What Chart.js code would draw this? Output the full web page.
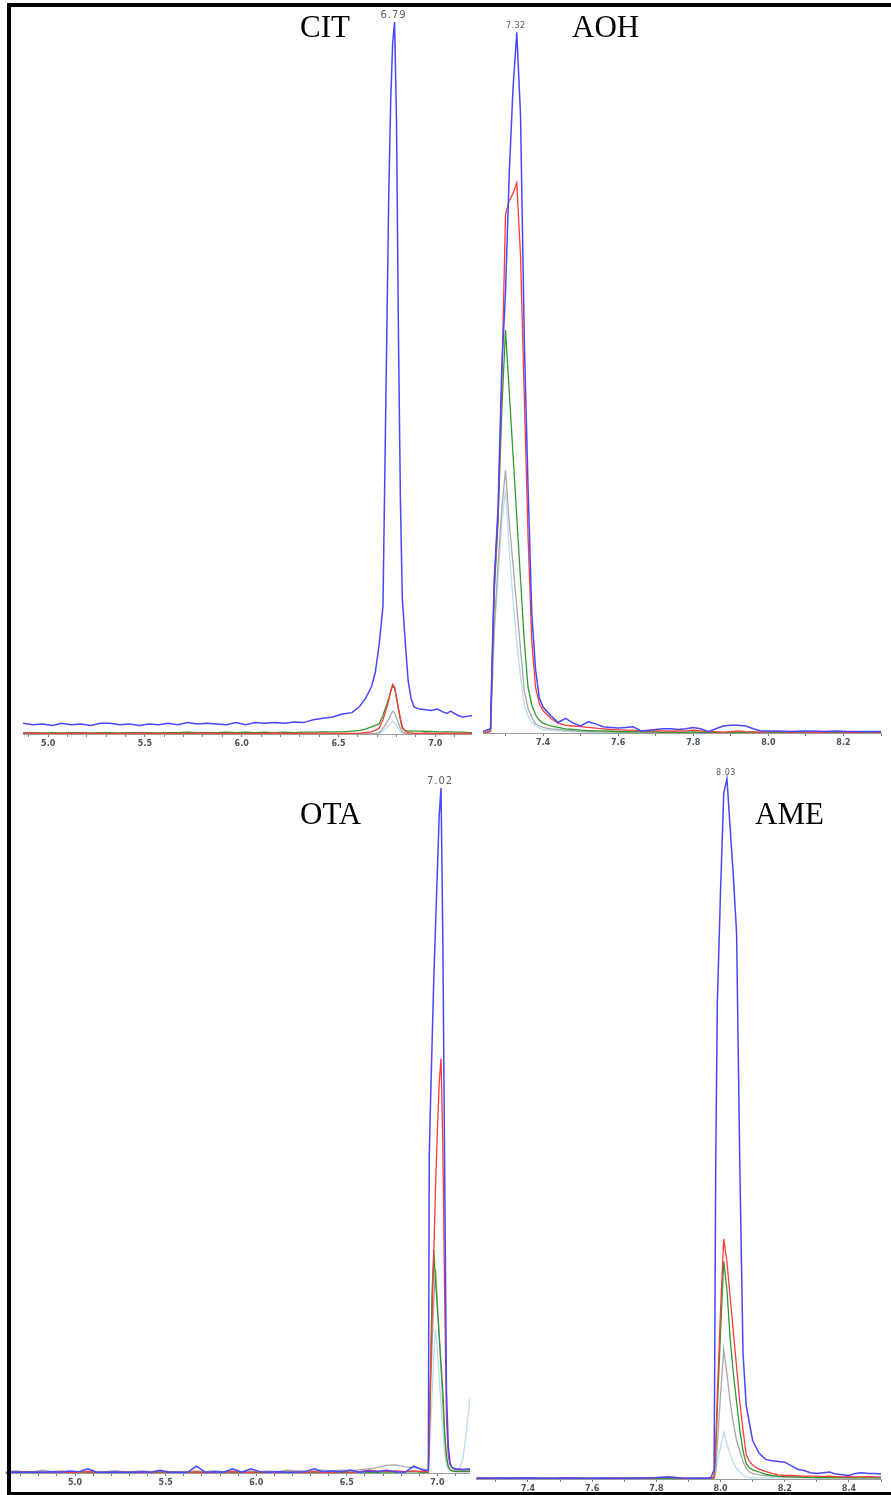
<!DOCTYPE html>
<html>
<head>
<meta charset="utf-8">
<script src="https://cdn.jsdelivr.net/npm/chart.js@4.4.1/dist/chart.umd.min.js"></script>
<style>
html,body{margin:0;padding:0;background:#fff;width:891px;height:1495px;overflow:hidden;}
canvas{position:absolute;}
.lbl{position:absolute;font-family:"Liberation Serif","Times New Roman",serif;font-size:31px;line-height:31px;color:#000;white-space:nowrap;}
#frame{position:absolute;left:7px;top:3px;width:884px;height:1492px;box-sizing:border-box;border-left:4px solid #000;border-top:4px solid #000;border-bottom:3px solid #000;z-index:5;pointer-events:none;}
</style>
</head>
<body>
<div id="frame"></div>
<canvas id="c1"></canvas>
<canvas id="c2"></canvas>
<canvas id="c3"></canvas>
<canvas id="c4"></canvas>
<div class="lbl" style="left:300px;top:11px;">CIT</div>
<div class="lbl" style="left:572px;top:11px;">AOH</div>
<div class="lbl" style="left:300px;top:798px;">OTA</div>
<div class="lbl" style="left:755px;top:798px;">AME</div>
<script>
// ---------- DATA ----------
// compound names and apex retention-time labels
const compounds = ['CIT', 'AOH', 'OTA', 'AME'];
const peakLabels = ['6.79', '7.32', '7.02', '8.03'];
const peakTimes = [6.79, 7.33, 7.02, 8.02];

// CIT panel (retention time, min)
const citTime = [4.87,4.92,4.97,5.02,5.07,5.12,5.17,5.22,5.27,5.32,5.37,5.42,5.47,5.52,5.57,5.62,5.67,5.72,5.77,5.82,5.87,5.92,5.97,6.02,6.07,6.12,6.17,6.22,6.27,6.32,6.37,6.42,6.47,6.52,6.57,
  6.61,6.64,6.67,6.69,6.71,6.73,6.745,6.76,6.77,6.78,6.79,6.80,6.81,6.82,6.83,6.845,6.86,6.875,6.89,
  6.92,6.95,6.98,7.01,7.04,7.06,7.08,7.11,7.14,7.17,7.19];
const citBlue = [1.5,1.3,1.4,1.2,1.5,1.3,1.4,1.2,1.5,1.5,1.3,1.4,1.2,1.4,1.3,1.5,1.3,1.6,1.4,1.5,1.4,1.3,1.6,1.3,1.6,1.5,1.6,1.5,1.7,1.6,2.0,2.2,2.4,2.8,3.0,
  3.9,5.0,6.6,8.6,12.5,18,47,76,89,97,100,86,56,33,19,13,7.5,5.0,3.8,
  3.5,3.4,3.3,3.5,3.1,2.9,3.2,2.7,2.4,2.5,2.6];
const citRed = [0.1,0.15,0.1,0.05,0.1,0.1,0.15,0.1,0.1,0.05,0.1,0.1,0.15,0.1,0.1,0.1,0.05,0.1,0.1,0.15,0.1,0.1,0.1,0.05,0.1,0.1,0.15,0.1,0.1,0.1,0.1,0.15,0.1,0.1,0.1,
  0.1,0.2,0.3,0.5,0.8,2.0,3.3,4.8,6.0,7.0,6.6,5.2,3.6,2.2,1.0,0.4,0.2,0.15,0.1,
  0.1,0.15,0.1,0.1,0.1,0.15,0.1,0.1,0.1,0.1,0.1];
const citGreen = [0.15,0.2,0.15,0.2,0.15,0.2,0.2,0.15,0.2,0.2,0.15,0.2,0.2,0.2,0.15,0.2,0.2,0.25,0.2,0.2,0.2,0.25,0.2,0.25,0.2,0.25,0.2,0.25,0.2,0.25,0.25,0.3,0.3,0.3,0.4,
  0.5,0.7,1.0,1.2,1.4,2.6,3.8,5.0,6.0,6.8,6.4,5.0,3.5,2.0,0.8,0.5,0.4,0.4,0.4,
  0.4,0.35,0.35,0.3,0.3,0.3,0.3,0.25,0.25,0.2,0.2];
const citGray = [0.05,0.05,0.05,0.05,0.05,0.05,0.05,0.05,0.05,0.05,0.05,0.05,0.05,0.05,0.05,0.05,0.05,0.05,0.05,0.05,0.05,0.05,0.05,0.05,0.05,0.05,0.05,0.05,0.05,0.05,0.05,0.05,0.05,0.05,0.05,
  0.05,0.05,0.05,0.1,0.2,0.8,1.4,2.1,2.7,3.2,3.0,2.3,1.5,0.8,0.3,0.1,0.05,0.05,0.05,
  0.05,0.05,0.05,0.05,0.05,0.05,0.05,0.05,0.05,0.05,0.05];
const citLight = [0.05,0.05,0.05,0.05,0.05,0.05,0.05,0.05,0.05,0.05,0.05,0.05,0.05,0.05,0.05,0.05,0.05,0.05,0.05,0.05,0.05,0.05,0.05,0.05,0.05,0.05,0.05,0.05,0.05,0.05,0.05,0.05,0.05,0.05,0.05,
  0.05,0.05,0.05,0.05,0.1,0.4,0.8,1.2,1.5,1.8,1.6,1.2,0.8,0.4,0.2,0.1,0.05,0.05,0.05,
  0.05,0.05,0.05,0.05,0.05,0.05,0.05,0.05,0.05,0.05,0.05];

// AOH panel
const aohTime = [7.24,7.25,7.26,7.265,7.27,
  7.28,7.29,7.30,7.31,7.32,7.33,7.34,7.35,7.36,7.37,7.38,7.39,7.40,
  7.42,7.44,7.46,7.48,7.50,7.52,7.54,7.56,7.58,7.60,7.62,7.64,7.66,7.68,7.70,7.72,7.74,7.76,7.78,7.80,7.82,7.84,7.86,7.88,7.90,7.92,7.94,7.96,7.98,8.00,
  8.03,8.06,8.09,8.12,8.15,8.18,8.21,8.24,8.27,8.30];
const aohBlue = [0.2,0.4,0.6,12,22,
  32,52,63,80,92,100,88,56,35,17,9,5,3.7,
  2.5,1.5,2.1,1.4,1.0,1.6,1.3,0.9,0.8,0.7,0.8,0.9,0.3,0.4,0.5,0.6,0.6,0.5,0.6,0.8,0.6,0.2,0.6,1.0,1.1,1.1,1.0,0.6,0.3,0.3,
  0.3,0.2,0.3,0.3,0.2,0.3,0.2,0.2,0.2,0.2];
const aohRed = [0.1,0.1,0.3,11,21,
  31,50,74,76,77,78.5,68,48,28,13,6.5,4.2,3.2,
  2.1,1.4,1.1,1.0,0.9,0.8,0.7,0.6,0.5,0.45,0.4,0.4,0.3,0.3,0.3,0.3,0.25,0.3,0.3,0.4,0.3,0.2,0.2,0.1,0.2,0.3,0.2,0.15,0.1,0.2,
  0.2,0.1,0.2,0.1,0.1,0.2,0.1,0.1,0.2,0.1];
const aohGreen = [0.1,0.1,0.3,10,20,
  30,46,57.5,48.6,39.7,30.8,21.9,13,6.5,4,2.6,1.8,1.4,
  1.0,0.8,0.6,0.5,0.4,0.35,0.3,0.3,0.25,0.2,0.2,0.2,0.15,0.2,0.15,0.1,0.15,0.1,0.1,0.15,0.1,0.1,0.1,0.1,0.1,0.1,0.1,0.1,0.1,0.1,
  0.1,0.1,0.1,0.1,0.1,0.1,0.1,0.1,0.1,0.1];
const aohGray = [0.05,0.05,0.2,8,15,
  24,32,37.5,30,24,18,12,6,3.5,2.2,1.3,1.0,0.8,
  0.6,0.5,0.4,0.3,0.25,0.2,0.2,0.15,0.15,0.1,0.1,0.1,0.1,0.1,0.1,0.1,0.1,0.1,0.1,0.1,0.1,0.1,0.1,0.1,0.1,0.1,0.1,0.1,0.1,0.1,
  0.1,0.1,0.1,0.1,0.1,0.1,0.1,0.1,0.1,0.1];
const aohLight = [0.05,0.05,0.2,7,14,
  22,30,34.7,26,19,13,8,4,2.4,1.5,1.0,0.7,0.5,
  0.4,0.3,0.25,0.2,0.15,0.1,0.1,0.1,0.1,0.1,0.1,0.1,0.1,0.1,0.1,0.1,0.1,0.1,0.1,0.1,0.1,0.1,0.1,0.1,0.1,0.1,0.1,0.1,0.1,0.1,
  0.1,0.1,0.1,0.1,0.1,0.1,0.1,0.1,0.1,0.1];

// OTA panel
const otaTime = [4.62,4.67,4.72,4.77,4.82,4.87,4.92,4.97,5.02,5.07,5.12,5.17,5.22,5.27,5.32,5.37,5.42,5.47,5.52,5.57,5.62,5.67,5.72,5.77,5.82,5.87,5.92,5.97,6.02,6.07,6.12,6.17,6.22,6.27,6.32,6.37,6.42,6.47,6.52,6.57,6.62,6.67,6.72,6.77,6.82,6.87,6.92,
  6.95,6.955,6.96,6.97,6.98,6.99,7.00,7.01,7.02,7.03,7.04,7.05,7.06,7.07,7.08,7.10,7.12,7.14,7.16,7.18];
const otaBlue = [0.1,0.15,0.1,0.15,0.1,0.2,0.1,0.3,0.2,0.6,0.1,0.1,0.15,0.1,0.1,0.2,0.1,0.4,0.1,0.1,0.1,1.0,0.1,0.2,0.1,0.6,0.1,0.6,0.2,0.1,0.2,0.1,0.1,0.2,0.6,0.2,0.3,0.2,0.45,0.1,0.3,0.2,0.4,0.2,0.1,1.0,0.4,
  0.4,46,52,62,72,80,88,96,100,78,45,12,4,1.5,0.8,0.6,0.6,0.5,0.6,0.6];
const otaRed = [0.1,0.1,0.15,0.1,0.1,0.1,0.15,0.1,0.1,0.2,0.1,0.1,0.1,0.15,0.1,0.1,0.1,0.2,0.1,0.1,0.1,0.15,0.1,0.1,0.1,0.2,0.1,0.1,0.15,0.1,0.1,0.1,0.15,0.1,0.2,0.1,0.1,0.2,0.1,0.2,0.4,0.3,0.2,0.3,0.2,0.3,0.2,
  0.2,5,12,22,32,42,50,57,60.5,48,26,8,2.5,1.2,0.8,0.6,0.5,0.5,0.5,0.5];
const otaGreen = [0.1,0.1,0.1,0.15,0.1,0.1,0.1,0.1,0.15,0.1,0.1,0.1,0.1,0.1,0.15,0.1,0.1,0.1,0.15,0.1,0.1,0.1,0.1,0.1,0.15,0.1,0.1,0.1,0.1,0.1,0.15,0.1,0.1,0.1,0.1,0.15,0.1,0.1,0.1,0.15,0.1,0.1,0.15,0.1,0.2,0.15,0.1,
  0.1,5,12,26,32.6,28,24,20,16,12,6,2.5,1.0,0.5,0.3,0.2,0.2,0.2,0.2,0.2];
const otaGray = [0.2,0.3,0.2,0.2,0.4,0.2,0.3,0.2,0.2,0.3,0.2,0.2,0.3,0.2,0.2,0.3,0.2,0.3,0.2,0.2,0.2,0.3,0.2,0.3,0.2,0.3,0.2,0.3,0.2,0.3,0.2,0.4,0.3,0.3,0.3,0.4,0.3,0.4,0.3,0.5,0.6,0.8,1.1,1.2,0.9,0.8,0.6,
  0.3,4,10,18,25,29.7,25,20,15,10,5,2,0.8,0.5,0.4,0.4,0.4,0.4,0.4,0.4];
const otaLight = [0.15,0.15,0.2,0.15,0.15,0.2,0.15,0.15,0.2,0.15,0.15,0.2,0.3,0.15,0.15,0.2,0.15,0.15,0.2,0.15,0.15,0.2,0.15,0.15,0.2,0.15,0.15,0.2,0.15,0.15,0.2,0.15,0.15,0.2,0.15,0.15,0.2,0.15,0.15,0.2,0.15,0.2,0.3,0.2,0.2,0.3,0.2,
  0.1,3,5,11,17,21,18,14,10,6,3,1.2,0.6,0.4,0.4,0.4,0.5,2,6,11];

// AME panel
const ameTime = [7.24,7.28,7.32,7.36,7.40,7.44,7.48,7.52,7.56,7.60,7.64,7.68,7.72,7.76,7.80,7.84,7.88,7.92,7.96,
  7.97,7.98,7.985,7.99,8.00,8.01,8.02,8.03,8.04,8.05,8.06,8.07,8.08,8.09,8.10,
  8.12,8.14,8.16,8.18,8.20,8.22,8.24,8.26,8.28,8.30,8.32,8.34,8.36,8.38,8.40,8.42,8.44,8.46,8.48,8.50];
const ameBlue = [0.15,0.1,0.15,0.1,0.15,0.1,0.1,0.15,0.1,0.1,0.15,0.1,0.1,0.15,0.2,0.3,0.15,0.1,0.1,
  0.2,1.3,45,68,84,98,100,93,86,78,45,18,10.5,8,5.5,
  3.7,2.8,2.6,2.5,2.4,1.9,1.4,1.2,0.9,0.8,0.9,1.0,0.7,0.6,0.5,0.8,0.9,0.8,0.8,0.7];
const ameRed = [0.1,0.15,0.1,0.1,0.2,0.1,0.1,0.2,0.1,0.1,0.1,0.15,0.1,0.1,0.2,0.3,0.1,0.1,0.1,
  0.1,0.3,5,12,24,34.3,31,26,21,16,11,7,3.5,2.5,2.0,
  1.4,1.1,0.8,0.6,0.5,0.5,0.45,0.4,0.4,0.4,0.35,0.4,0.35,0.3,0.35,0.3,0.3,0.35,0.3,0.3];
const ameGreen = [0.1,0.1,0.1,0.15,0.1,0.1,0.1,0.1,0.15,0.1,0.1,0.1,0.15,0.1,0.1,0.1,0.1,0.1,0.1,
  0.1,0.2,4,10,21,31.1,27,20,15,11,7,4,2.2,1.6,1.3,
  1.0,0.7,0.5,0.4,0.35,0.3,0.3,0.25,0.25,0.2,0.2,0.2,0.2,0.2,0.15,0.15,0.15,0.15,0.15,0.15];
const ameGray = [0.1,0.1,0.1,0.1,0.1,0.1,0.1,0.1,0.1,0.1,0.1,0.1,0.1,0.1,0.1,0.15,0.1,0.1,0.1,
  0.05,0.1,1,5,12,18.5,15,11,8,5.5,4,2.5,1.5,1.0,0.8,
  0.6,0.5,0.4,0.35,0.3,0.3,0.25,0.25,0.2,0.2,0.2,0.2,0.2,0.2,0.2,0.2,0.2,0.2,0.2,0.2];
const ameLight = [0.1,0.1,0.1,0.1,0.1,0.1,0.1,0.1,0.1,0.1,0.1,0.1,0.1,0.1,0.1,0.1,0.1,0.1,0.1,
  0.05,0.2,1,2.5,4.5,6.7,5,3.5,2.3,1.5,1.0,0.6,0.3,0.2,0.15,
  0.15,0.15,0.15,0.15,0.15,0.15,0.15,0.15,0.15,0.15,0.15,0.15,0.15,0.15,0.15,0.15,0.15,0.15,0.15,0.15];

// ---------- STYLE / LAYOUT ----------
const COLORS = ['#4848ff', '#ff3a3a', '#2f9a2f', '#a8a8a8', '#bcdcf2'];
const WIDTHS = [1.5, 1.3, 1.3, 1.3, 1.3];

const panels = [
  {id:'c1', left:23, top:0, width:449, areaH:734, axisH:22, xmin:4.87, xmax:7.19, yMax:103.1, step:0.1, every:0.5,
   time:citTime, series:[citBlue,citRed,citGreen,citGray,citLight], peak:0, pSize:10, pSpace:1},
  {id:'c2', left:483, top:0, width:400, areaH:733, axisH:22, xmin:7.24, xmax:8.30, yMax:104.6, step:0.1, every:0.2,
   time:aohTime, series:[aohBlue,aohRed,aohGreen,aohGray,aohLight], peak:1, pSize:8, pSpace:0.5},
  {id:'c3', left:5, top:760, width:465, areaH:713, axisH:22, xmin:4.613, xmax:7.18, yMax:104.1, step:0.1, every:0.5,
   time:otaTime, series:[otaBlue,otaRed,otaGreen,otaGray,otaLight], peak:2, pSize:10, pSpace:1},
  {id:'c4', left:476, top:760, width:407, areaH:719, axisH:16, xmin:7.238, xmax:8.50, yMax:102.7, step:0.1, every:0.2,
   time:ameTime, series:[ameBlue,ameRed,ameGreen,ameGray,ameLight], peak:3, pSize:8, pSpace:0.5}
];

const peakPlugin = {
  id: 'peakLabel',
  afterDatasetsDraw(chart, args, opts) {
    const ctx = chart.ctx;
    const xs = chart.scales.x, ys = chart.scales.y;
    ctx.save();
    ctx.font = opts.size + 'px "DejaVu Sans", sans-serif';
    if ('letterSpacing' in ctx) ctx.letterSpacing = opts.spacing + 'px';
    ctx.fillStyle = '#5c5a52';
    ctx.textAlign = 'center';
    ctx.textBaseline = 'bottom';
    ctx.fillText(opts.text, xs.getPixelForValue(opts.t) - 1, ys.getPixelForValue(opts.v) - 2);
    ctx.restore();
  }
};

panels.forEach(p => {
  const cv = document.getElementById(p.id);
  cv.width = p.width;
  cv.height = p.areaH + p.axisH;
  cv.style.left = p.left + 'px';
  cv.style.top = p.top + 'px';
  cv.style.width = p.width + 'px';
  cv.style.height = (p.areaH + p.axisH) + 'px';
  const datasets = p.series.map((s, i) => ({
    data: p.time.map((t, k) => ({x: t, y: s[k]})),
    borderColor: COLORS[i],
    borderWidth: WIDTHS[i],
    pointRadius: 0,
    tension: 0,
    fill: false
  }));
  new Chart(cv, {
    type: 'line',
    data: {datasets},
    options: {
      responsive: false,
      animation: false,
      devicePixelRatio: 1,
      layout: {padding: 0},
      plugins: {
        legend: {display: false},
        tooltip: {enabled: false},
        peakLabel: {text: peakLabels[p.peak], t: peakTimes[p.peak], v: 100, size: p.pSize, spacing: p.pSpace}
      },
      scales: {
        x: {
          type: 'linear', min: p.xmin, max: p.xmax, position: 'bottom',
          afterFit: s => { s.height = p.axisH; },
          grid: {display: true, drawOnChartArea: false, drawTicks: true, tickLength: 3, color: '#7a7a7a', lineWidth: 1},
          border: {display: true, color: '#9c9c9c', width: 1},
          ticks: {
            stepSize: p.step, includeBounds: false, autoSkip: false, maxRotation: 0, minRotation: 0,
            padding: 2, color: '#4a525c',
            font: {family: 'DejaVu Sans', size: 8, weight: 'bold'},
            callback: v => (Math.abs(v / p.every - Math.round(v / p.every)) < 1e-6) ? v.toFixed(1) : ''
          }
        },
        y: {type: 'linear', display: false, min: 0, max: p.yMax}
      }
    },
    plugins: [peakPlugin]
  });
});
</script>
</body>
</html>
